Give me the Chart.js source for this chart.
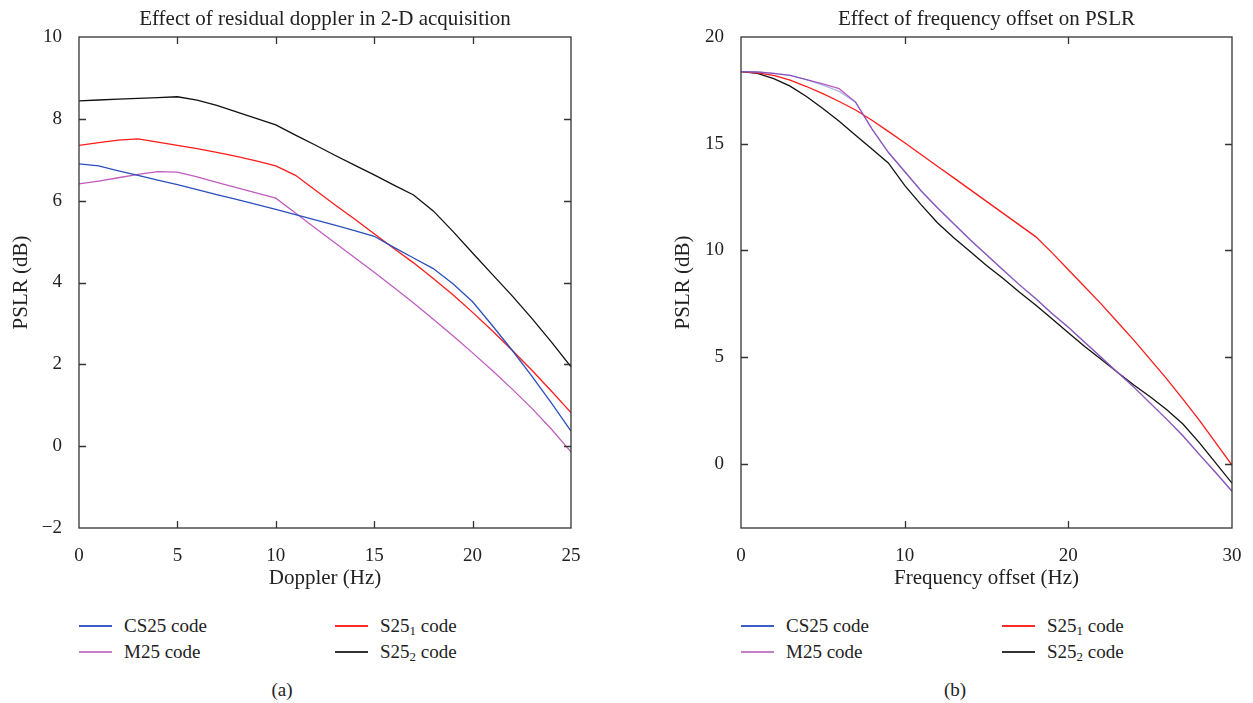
<!DOCTYPE html>
<html>
<head>
<meta charset="utf-8">
<script src="https://cdn.jsdelivr.net/npm/chart.js@4.4.0/dist/chart.umd.min.js"></script>
<style>
  body { margin: 0; background: #fff; }
  #page { position: relative; width: 1253px; height: 703px; overflow: hidden; font-family: "Liberation Serif", serif; color: #222; }
  canvas { position: absolute; top: 0; }
  .leg { position: absolute; height: 22px; display: flex; align-items: center; font-size: 19px; white-space: nowrap; }
  .leg i { display: inline-block; width: 33px; height: 2px; margin-right: 12px; }
  .leg sub { font-size: 0.68em; vertical-align: -0.25em; line-height: 0; }
  .cap { position: absolute; font-size: 19px; transform: translate(-50%, -50%); }
</style>
</head>
<body>
<div id="page">
  <canvas id="chartA" width="620" height="600" style="left:0"></canvas>
  <canvas id="chartB" width="591" height="600" style="left:662px"></canvas>
</div>
<script>
// series names (legend text, subscripts via html)
const seriesNames = ['CS25 code', 'M25 code', 'S25<sub>1</sub> code', 'S25<sub>2</sub> code'];
const seriesColors = ['#2b4fbd', '#c05cc0', '#ff1a1a', '#111111'];
const legendColors = ['#3a5cc6', '#c77fc7', '#ff2a2a', '#333333'];

// (a) residual doppler
const dopplerHz = [0, 1, 2, 3, 4, 5, 6, 7, 8, 9, 10, 11, 12, 13, 14, 15, 16, 17, 18, 19, 20, 21, 22, 23, 24, 25];
const cs25A  = [6.9, 6.85, 6.73, 6.62, 6.5, 6.39, 6.27, 6.15, 6.03, 5.91, 5.79, 5.66, 5.53, 5.4, 5.27, 5.13, 4.86, 4.6, 4.34, 3.97, 3.53, 2.95, 2.35, 1.72, 1.06, 0.37];
const m25A   = [6.41, 6.48, 6.56, 6.64, 6.71, 6.7, 6.58, 6.45, 6.32, 6.19, 6.06, 5.7, 5.33, 4.97, 4.61, 4.25, 3.88, 3.5, 3.1, 2.7, 2.28, 1.85, 1.4, 0.93, 0.42, -0.14];
const s251A  = [7.35, 7.42, 7.48, 7.51, 7.43, 7.35, 7.27, 7.18, 7.08, 6.97, 6.85, 6.62, 6.26, 5.9, 5.55, 5.19, 4.83, 4.48, 4.1, 3.7, 3.27, 2.82, 2.35, 1.86, 1.35, 0.82];
const s252A  = [8.44, 8.46, 8.48, 8.5, 8.52, 8.54, 8.46, 8.33, 8.17, 8.01, 7.85, 7.6, 7.36, 7.11, 6.87, 6.63, 6.38, 6.14, 5.75, 5.25, 4.72, 4.2, 3.68, 3.13, 2.55, 1.94];
const xTicksA = [0, 5, 10, 15, 20, 25];
const yTicksA = [-2, 0, 2, 4, 6, 8, 10];

// (b) frequency offset
const offsetHz = [0, 1, 2, 3, 4, 5, 6, 7, 8, 9, 10, 11, 12, 13, 14, 15, 16, 17, 18, 19, 20, 21, 22, 23, 24, 25, 26, 27, 28, 29, 30];
const cs25B  = [18.38, 18.36, 18.3, 18.2, 18.0, 17.75, 17.45, 16.95, 15.7, 14.6, 13.7, 12.8, 12.0, 11.25, 10.5, 9.8, 9.1, 8.4, 7.75, 7.05, 6.4, 5.7, 5.0, 4.3, 3.6, 2.85, 2.1, 1.32, 0.45, -0.4, -1.28];
const m25B   = [18.38, 18.36, 18.3, 18.2, 18.0, 17.8, 17.58, 16.95, 15.7, 14.6, 13.7, 12.8, 12.0, 11.25, 10.5, 9.8, 9.1, 8.4, 7.75, 7.05, 6.4, 5.7, 5.0, 4.3, 3.6, 2.85, 2.1, 1.32, 0.45, -0.4, -1.28];
const s251B  = [18.38, 18.32, 18.2, 17.98, 17.68, 17.35, 16.98, 16.58, 16.1, 15.58, 15.05, 14.5, 13.95, 13.4, 12.85, 12.3, 11.75, 11.2, 10.65, 9.9, 9.1, 8.3, 7.5, 6.65, 5.8, 4.9, 4.0, 3.04, 2.05, 1.0, -0.05];
const s252B  = [18.38, 18.3, 18.05, 17.7, 17.21, 16.65, 16.05, 15.4, 14.75, 14.1, 13.05, 12.15, 11.3, 10.6, 9.95, 9.3, 8.7, 8.05, 7.45, 6.8, 6.15, 5.5, 4.9, 4.3, 3.7, 3.15, 2.55, 1.87, 1.0, 0.05, -0.9];
const xTicksB = [0, 10, 20, 30];
const yTicksB = [0, 5, 10, 15, 20];

const FONT = '"Liberation Serif", serif';

// box around the plot, inward ticks on all four sides, and the title
const framePlugin = {
  id: 'frame',
  afterDraw(chart, args, opts) {
    const { ctx, chartArea: a, scales: { x, y } } = chart;
    ctx.save();
    ctx.strokeStyle = '#333';
    ctx.lineWidth = 1.3;
    ctx.strokeRect(a.left, a.top, a.right - a.left, a.bottom - a.top);
    ctx.beginPath();
    x.ticks.forEach(t => {
      const px = Math.round(x.getPixelForValue(t.value)) + 0.5;
      if (px <= a.left + 2 || px >= a.right - 2) return;
      ctx.moveTo(px, a.bottom); ctx.lineTo(px, a.bottom - 7);
      ctx.moveTo(px, a.top); ctx.lineTo(px, a.top + 7);
    });
    y.ticks.forEach(t => {
      const py = Math.round(y.getPixelForValue(t.value)) + 0.5;
      if (py <= a.top + 2 || py >= a.bottom - 2) return;
      ctx.moveTo(a.left, py); ctx.lineTo(a.left + 7, py);
      ctx.moveTo(a.right, py); ctx.lineTo(a.right - 7, py);
    });
    ctx.stroke();
    ctx.fillStyle = '#222';
    ctx.font = '21px ' + FONT;
    ctx.textAlign = 'center';
    ctx.textBaseline = 'alphabetic';
    ctx.fillText(opts.text, (a.left + a.right) / 2, 25);
    ctx.restore();
  }
};

function makeChart(id, xs, series, colors, xTicks, yTicks, xMin, xMax, yMin, yMax, xTitle, title, padRight) {
  const datasets = series.map((ys, i) => ({
    label: seriesNames[i].replace(/<\/?sub>/g, ''),
    data: xs.map((x, j) => ({ x: x, y: ys[j] })),
    borderColor: colors[i],
    borderWidth: 1.3,
    pointRadius: 0,
    tension: 0,
    fill: false
  }));
  return new Chart(document.getElementById(id), {
    type: 'line',
    data: { datasets },
    options: {
      responsive: false,
      animation: false,
      layout: { padding: { top: 37, right: padRight, bottom: 0, left: 0 } },
      plugins: { legend: { display: false }, tooltip: { enabled: false }, frame: { text: title } },
      scales: {
        x: {
          type: 'linear', min: xMin, max: xMax,
          grid: { display: false }, border: { display: false },
          afterBuildTicks: s => { s.ticks = xTicks.map(v => ({ value: v })); },
          afterFit: s => { s.height = 72; },
          ticks: { padding: 9, color: '#222', font: { family: FONT, size: 19 } },
          title: { display: true, text: xTitle, color: '#222', padding: { top: 9, bottom: 9 }, font: { family: FONT, size: 21 } }
        },
        y: {
          type: 'linear', min: yMin, max: yMax,
          grid: { display: false }, border: { display: false },
          afterBuildTicks: s => { s.ticks = yTicks.map(v => ({ value: v })); },
          afterFit: s => { s.width = 79; },
          ticks: {
            padding: 9, color: '#222', font: { family: FONT, size: 19 },
            callback: v => String(v).replace('-', '\u2212')
          },
          title: { display: true, text: 'PSLR (dB)', color: '#222', padding: { top: 9, bottom: 9 }, font: { family: FONT, size: 21 } }
        }
      }
    },
    plugins: [framePlugin]
  });
}

makeChart('chartA', dopplerHz, [cs25A, m25A, s251A, s252A], seriesColors,
  xTicksA, yTicksA, 0, 25, -2, 10, 'Doppler (Hz)', 'Effect of residual doppler in 2-D acquisition', 49);

// in (b) the CS25 and M25 curves overlap, the reference shows them blended
const colorsB = ['rgba(43,79,189,0.4)', seriesColors[1], seriesColors[2], seriesColors[3]];
makeChart('chartB', offsetHz, [cs25B, m25B, s251B, s252B], colorsB,
  xTicksB, yTicksB, 0, 30, -3, 20, 'Frequency offset (Hz)', 'Effect of frequency offset on PSLR', 21);

// html legends and panel captions
const page = document.getElementById('page');
function addLegend(cols, rows) {
  const order = [[0, 0], [1, 0], [0, 1], [1, 1]]; // [row, col] for each series
  seriesNames.forEach((name, i) => {
    const el = document.createElement('div');
    el.className = 'leg';
    el.style.left = cols[order[i][1]] + 'px';
    el.style.top = (rows[order[i][0]] - 11) + 'px';
    el.innerHTML = '<i style="background:' + legendColors[i] + '"></i><span>' + name + '</span>';
    page.appendChild(el);
  });
}
function addCaption(text, x, y) {
  const el = document.createElement('div');
  el.className = 'cap';
  el.style.left = x + 'px';
  el.style.top = y + 'px';
  el.textContent = text;
  page.appendChild(el);
}
addLegend([79, 335], [626, 652]);
addLegend([741, 1002], [626, 652]);
addCaption('(a)', 282, 690);
addCaption('(b)', 955, 690);
</script>
</body>
</html>
